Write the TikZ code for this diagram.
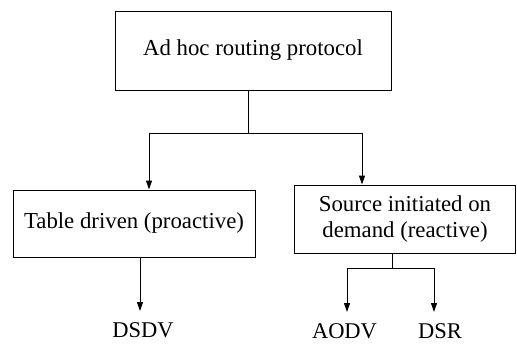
\documentclass[tikz,border=0pt]{standalone}
\usepackage{fontspec}
\setmainfont{Liberation Serif}
\usetikzlibrary{arrows.meta}
\begin{document}
\begin{tikzpicture}[x=1pt,y=-1pt,
  box/.style={draw,line width=1pt,inner sep=0pt,align=center,
    font=\fontsize{22.8}{26}\selectfont},
  leaf/.style={inner sep=0pt,anchor=base,font=\fontsize{22.5}{26}\selectfont},
  link/.style={line width=1pt},
  arrow/.style={link,-{Triangle[length=9pt,width=6pt]}}]
\useasboundingbox (0,0) rectangle (517,343);
% boxes
\node[box,minimum width=276pt,minimum height=79pt] (root) at (253,50.5) {Ad hoc routing protocol};
\node[box,minimum width=242pt,minimum height=67pt] (pro) at (134,223.5) {Table driven (proactive)};
\node[box,minimum width=221pt,minimum height=68pt] (rea) at (405,219) {Source initiated on\\demand (reactive)};
% protocol names
\node[leaf] (dsdv) at (143,337.5) {DSDV};
\node[leaf] (aodv) at (344.5,338.5) {AODV};
\node[leaf] (dsr) at (440,338.5) {DSR};
% junction points
\coordinate (j0) at (248,133);
\coordinate (jl) at (149,133);
\coordinate (jr) at (362,133);
\coordinate (pd) at (140,311);
\coordinate (k0) at (392,268);
\coordinate (ka) at (347,268);
\coordinate (kd) at (434,268);
\coordinate (tipa) at (347,312);
\coordinate (tipd) at (434,312);
% connectors
\draw[link] (root.south -| j0) -- (j0);
\draw[link] (jl) -- (jr);
\draw[arrow] (jl) -- (jl |- pro.north);
\draw[arrow] (jr) -- (jr |- rea.north);
\draw[arrow] (pro.south -| pd) -- (pd);
\draw[link] (rea.south -| k0) -- (k0);
\draw[link] (ka) -- (kd);
\draw[arrow] (ka) -- (tipa);
\draw[arrow] (kd) -- (tipd);
\end{tikzpicture}
\end{document}
